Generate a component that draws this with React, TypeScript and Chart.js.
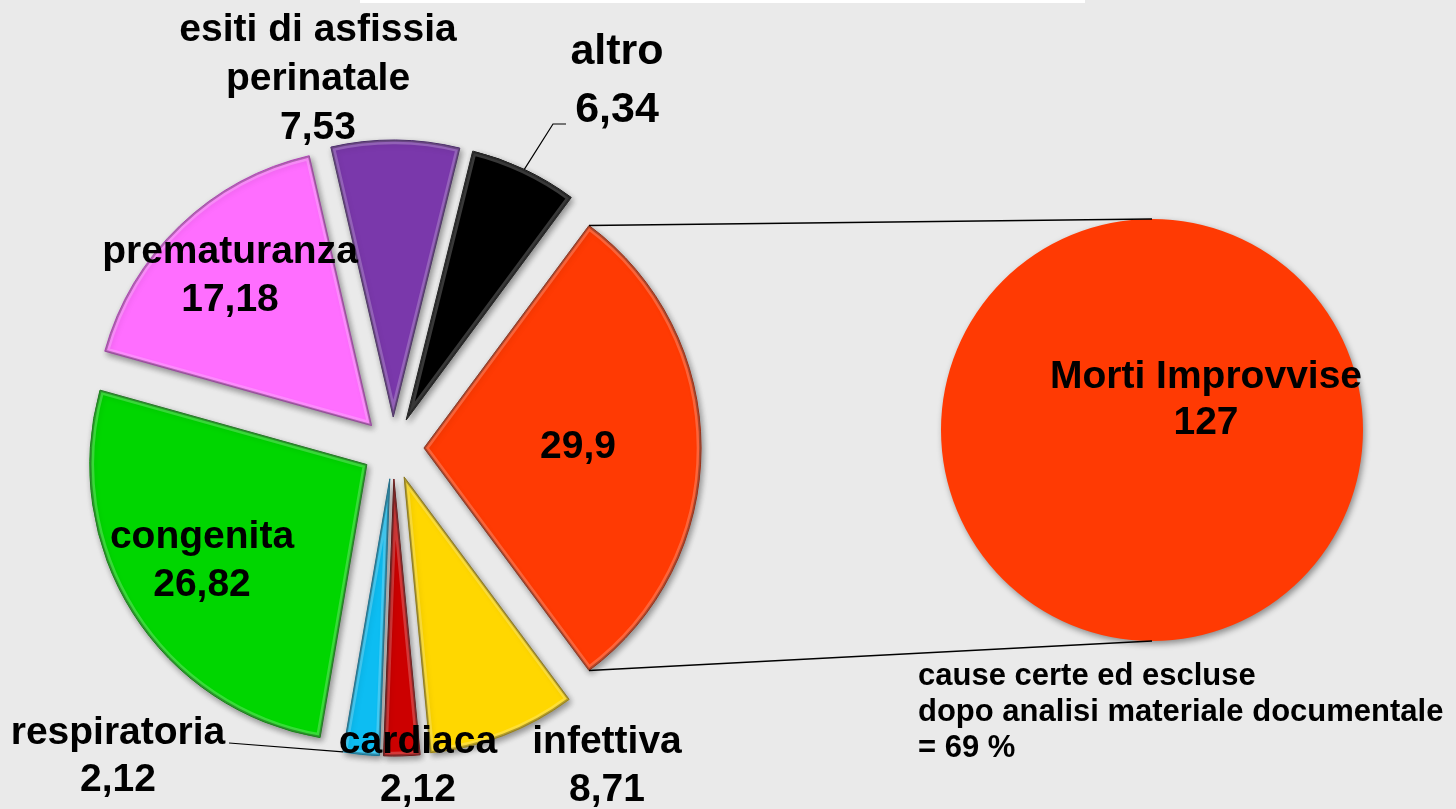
import React, { useEffect, useRef } from 'react';
import { Chart, ArcElement, PieController, registerables } from 'chart.js';

// ---------- data ----------
const CATEGORIES = [
  'Morti Improvvise',
  'infettiva',
  'cardiaca',
  'respiratoria',
  'congenita',
  'prematuranza',
  'esiti di asfissia perinatale',
  'altro',
];
const VALUES = [29.9, 8.71, 2.12, 2.12, 26.82, 17.18, 7.53, 6.34];
const LABEL_LINES: string[][] = [
  [],
  ['infettiva'],
  ['cardiaca'],
  ['respiratoria'],
  ['congenita'],
  ['prematuranza'],
  ['esiti di asfissia', 'perinatale'],
  ['altro'],
];
const SECONDARY_CATEGORIES = ['Morti Improvvise'];
const SECONDARY_VALUES = [127];
const NOTE_LINES = ['cause certe ed escluse', 'dopo analisi materiale documentale', '= 69 %'];

// ---------- styles ----------
const COLORS = ['#FF3A03', '#FFD700', '#CC0000', '#0DBDF2', '#00D600', '#FF6EFF', '#7A38AB', '#000000'];
const EDGE_COLORS = ['#A82000', '#A88A00', '#700000', '#0578A0', '#008800', '#B840C0', '#45206A', '#000000'];
const FONT = '"Liberation Sans", Arial, sans-serif';
// label block placement relative to pie centre: dx, dy (first line), line height, font size
const LABEL_LAYOUT = [
  { dx: 185, dy: -1, lh: 48, size: 39 },
  { dx: 214, dy: 294, lh: 48, size: 39 },
  { dx: 25, dy: 294, lh: 48, size: 39 },
  { dx: -275, dy: 285, lh: 47, size: 39 },
  { dx: -191, dy: 89, lh: 48, size: 39 },
  { dx: -163, dy: -196, lh: 48, size: 39 },
  { dx: -75, dy: -418, lh: 49, size: 39 },
  { dx: 224, dy: -396, lh: 58, size: 43 },
];
const LEADERS = [
  { index: 7, at: 0.5, points: [[160, -324], [173, -324]] },
  { index: 3, at: 1, points: [[-164, 295]] },
];
const SECONDARY_LABEL = { dx: 54, dy: -53, lh: 46, size: 39 };
const NOTE_LAYOUT = { dx: -234, dy: 246, lh: 36, size: 31 };

// ---------- custom exploded arc ----------
class ExplodedArc extends ArcElement {
  static id = 'explodedArc';
  static defaults = { ...(ArcElement as any).defaults, explode: 0, bevel: true };
  draw(ctx: CanvasRenderingContext2D) {
    const self: any = this;
    const opts: any = self.options;
    const d = opts.explode || 0;
    const half = (self.startAngle + self.endAngle) / 2;
    ctx.save();
    ctx.translate(Math.cos(half) * d, Math.sin(half) * d);
    ctx.shadowColor = 'rgba(0,0,0,0.4)';
    ctx.shadowBlur = 6;
    ctx.shadowOffsetX = 2;
    ctx.shadowOffsetY = 3;
    super.draw(ctx);
    ctx.shadowColor = 'rgba(0,0,0,0)';
    ctx.shadowBlur = 0;
    ctx.shadowOffsetX = 0;
    ctx.shadowOffsetY = 0;
    if (opts.bevel) {
      self.options = { ...opts, backgroundColor: 'rgba(0,0,0,0)', borderColor: 'rgba(255,255,255,0.22)', borderWidth: 4, borderAlign: 'inner' };
      super.draw(ctx);
      self.options = { ...opts, backgroundColor: 'rgba(0,0,0,0)', borderColor: 'rgba(0,0,0,0.28)', borderWidth: 1.5, borderAlign: 'inner' };
      super.draw(ctx);
      self.options = opts;
    }
    ctx.restore();
  }
}
class ExplodedPie extends PieController {
  static id = 'explodedPie';
  static defaults = { dataElementType: 'explodedArc' };
}
Chart.register(...registerables, ExplodedArc as any, ExplodedPie as any);

const fmt = (v: number) => String(v).replace('.', ',');

function drawLines(ctx: CanvasRenderingContext2D, lines: string[], x: number, y: number, lh: number, size: number, align: CanvasTextAlign) {
  ctx.font = `bold ${size}px ${FONT}`;
  ctx.fillStyle = '#000';
  ctx.textAlign = align;
  ctx.textBaseline = 'middle';
  lines.forEach((t, i) => ctx.fillText(t, x, y + i * lh));
}

export default function App() {
  const refA = useRef<HTMLCanvasElement>(null);
  const refB = useRef<HTMLCanvasElement>(null);

  useEffect(() => {
    document.body.style.margin = '0';
    const total = VALUES.reduce((a, b) => a + b, 0);
    const rotation = 90 - ((VALUES[0] / total) * 360) / 2;

    const mainLabels = {
      id: 'mainLabels',
      afterDatasetsDraw(chart: any) {
        const ctx: CanvasRenderingContext2D = chart.ctx;
        const meta = chart.getDatasetMeta(0);
        const el0 = meta.data[0];
        const cx = el0.x, cy = el0.y;
        ctx.save();
        ctx.strokeStyle = '#000';
        ctx.lineWidth = 1.2;
        LEADERS.forEach((ld) => {
          const el: any = meta.data[ld.index];
          const E = el.options.explode || 0;
          const half = (el.startAngle + el.endAngle) / 2;
          const a = el.startAngle + (el.endAngle - el.startAngle) * ld.at;
          const sx = cx + Math.cos(half) * E + Math.cos(a) * el.outerRadius;
          const sy = cy + Math.sin(half) * E + Math.sin(a) * el.outerRadius;
          ctx.beginPath();
          ctx.moveTo(sx, sy);
          ld.points.forEach((p) => ctx.lineTo(cx + p[0], cy + p[1]));
          ctx.stroke();
        });
        VALUES.forEach((v, i) => {
          const L = LABEL_LAYOUT[i];
          drawLines(ctx, [...LABEL_LINES[i], fmt(v)], cx + L.dx, cy + L.dy, L.lh, L.size, 'center');
        });
        ctx.restore();
      },
    };

    const chartA = new Chart(refA.current as HTMLCanvasElement, {
      type: 'explodedPie' as any,
      data: {
        labels: CATEGORIES,
        datasets: [
          {
            data: VALUES,
            backgroundColor: COLORS,
            borderColor: EDGE_COLORS,
            borderWidth: 1,
            explode: 31,
            rotation,
            radius: 277,
          } as any,
        ],
      },
      options: {
        responsive: false,
        animation: false,
        events: [],
        layout: { padding: { left: 93, right: 763, top: 148, bottom: 61 } },
        plugins: { legend: { display: false }, tooltip: { enabled: false } },
      } as any,
      plugins: [mainLabels as any],
    });

    const secondary = {
      id: 'secondary',
      afterDatasetsDraw(chart: any) {
        const ctx: CanvasRenderingContext2D = chart.ctx;
        const b: any = chart.getDatasetMeta(0).data[0];
        const a: any = chartA.getDatasetMeta(0).data[0];
        const E = a.options.explode || 0;
        const half = (a.startAngle + a.endAngle) / 2;
        const ox = a.x + Math.cos(half) * E;
        const oy = a.y + Math.sin(half) * E;
        ctx.save();
        ctx.strokeStyle = '#000';
        ctx.lineWidth = 1.5;
        ctx.beginPath();
        ctx.moveTo(ox + Math.cos(a.startAngle) * a.outerRadius, oy + Math.sin(a.startAngle) * a.outerRadius);
        ctx.lineTo(b.x, b.y - b.outerRadius);
        ctx.moveTo(ox + Math.cos(a.endAngle) * a.outerRadius, oy + Math.sin(a.endAngle) * a.outerRadius);
        ctx.lineTo(b.x, b.y + b.outerRadius);
        ctx.stroke();
        const S = SECONDARY_LABEL;
        drawLines(ctx, [SECONDARY_CATEGORIES[0], String(SECONDARY_VALUES[0])], b.x + S.dx, b.y + S.dy, S.lh, S.size, 'center');
        const N = NOTE_LAYOUT;
        drawLines(ctx, NOTE_LINES, b.x + N.dx, b.y + N.dy, N.lh, N.size, 'left');
        ctx.restore();
      },
    };

    const chartB = new Chart(refB.current as HTMLCanvasElement, {
      type: 'explodedPie' as any,
      data: {
        labels: SECONDARY_CATEGORIES,
        datasets: [
          {
            data: SECONDARY_VALUES,
            backgroundColor: [COLORS[0]],
            borderWidth: 0,
            explode: 0,
            bevel: false,
            radius: 211,
          } as any,
        ],
      },
      options: {
        responsive: false,
        animation: false,
        events: [],
        layout: { padding: { left: 902, right: 54, top: 180, bottom: 129 } },
        plugins: { legend: { display: false }, tooltip: { enabled: false } },
      } as any,
      plugins: [secondary as any],
    });

    return () => {
      chartB.destroy();
      chartA.destroy();
    };
  }, []);

  const canvasStyle: React.CSSProperties = { position: 'absolute', left: 0, top: 0, width: 1456, height: 809 };
  return (
    <div style={{ position: 'fixed', left: 0, top: 0, width: 1456, height: 809, background: '#EAEAEA', overflow: 'hidden' }}>
      <div style={{ position: 'absolute', left: 360, top: 0, width: 725, height: 3, background: '#FFFFFF' }} />
      <canvas ref={refA} width={1456} height={809} style={canvasStyle} />
      <canvas ref={refB} width={1456} height={809} style={canvasStyle} />
    </div>
  );
}
